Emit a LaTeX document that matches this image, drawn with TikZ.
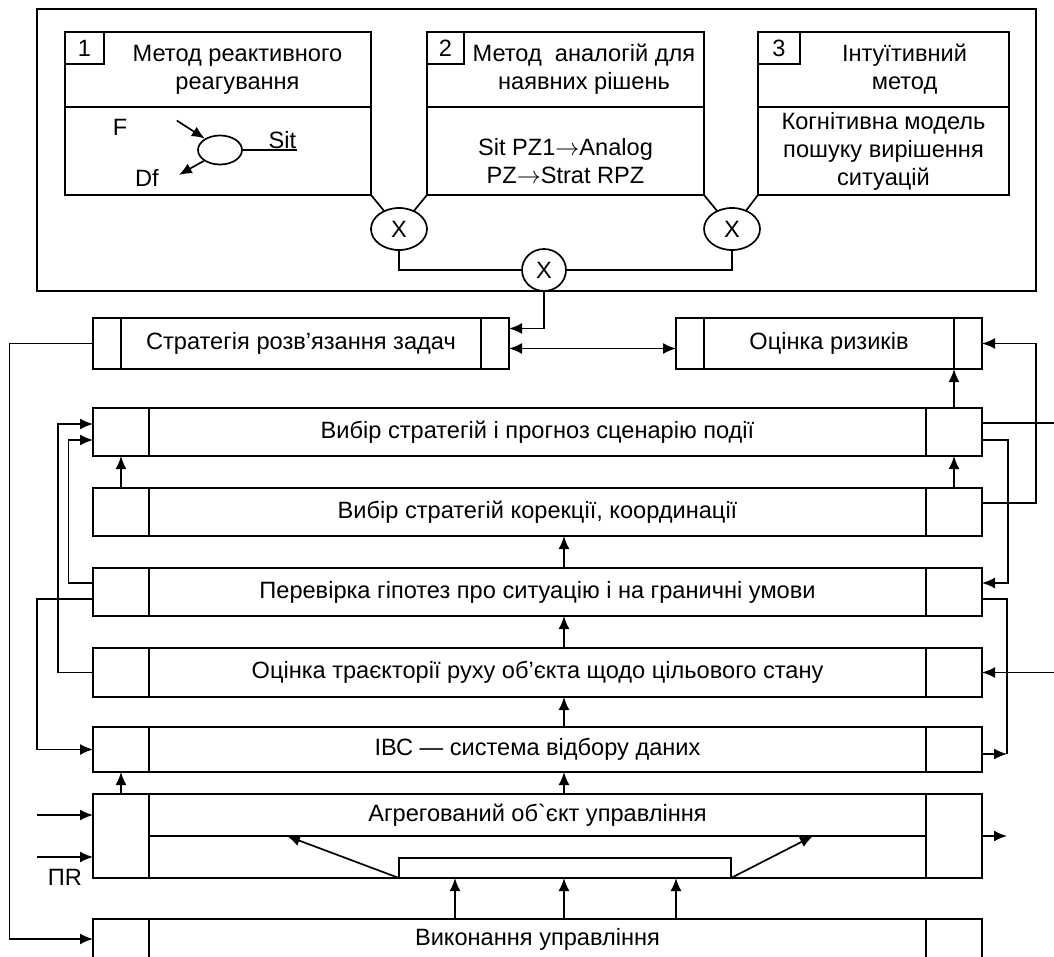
\documentclass[tikz,border=0pt]{standalone}
\usepackage{fontspec}
\setmainfont{Liberation Sans}[Ligatures=TeXOff]
\usetikzlibrary{arrows.meta,positioning,shapes.geometric,calc}

\tikzset{
    blk/.style={draw, rectangle, inner sep=0pt, outer sep=0pt, align=center},
    num/.style={blk, anchor=north west, minimum height=16pt},
    mult/.style={draw, ellipse, inner sep=0pt, outer sep=0pt, minimum height=21pt},
    row/.style={blk, minimum width=444.5pt, minimum height=24pt},
}

\begin{document}
\begin{tikzpicture}[x=0.5pt,y=-0.5pt,line width=0.85pt,>={Latex[length=6.5pt,width=5.5pt]},
    font=\fontsize{11.8}{14}\selectfont]
    \clip (0,0) rectangle (1054,957);
    \draw (37,9) rectangle (1036,291);

    % methods
    \node[blk, anchor=north west, minimum width=153pt, minimum height=37.5pt] (m1) at (65,32) {};
    \node[blk, below=0pt of m1, minimum width=153pt, minimum height=44pt] (m1body) {};
    \node[num, minimum width=19.5pt] (n1) at (65,32) {1};
    \node[align=center] (t1) at ($(n1.north east)!.5!(m1.south east)$) {Метод реактивного\\реагування};

    \node[blk, anchor=north west, minimum width=138.5pt, minimum height=37.5pt] (m2) at (427,32) {};
    \node[blk, below=0pt of m2, minimum width=138.5pt, minimum height=44pt] (m2body) {};
    \node[num, minimum width=18.5pt] (n2) at (427,32) {2};
    \node[align=center] (t2) at ($(n2.north east)!.5!(m2.south east)$) {Метод\ \ аналогій для\\наявних рішень};
    \node[align=center] (m2txt) at ($(m2body.center)+(0,10)$) {Sit PZ1$\rightarrow$Analog\\PZ$\rightarrow$Strat RPZ};

    \node[blk, anchor=north west, minimum width=125.5pt, minimum height=37.5pt] (m3) at (758,32) {};
    \node[blk, below=0pt of m3, minimum width=125.5pt, minimum height=44pt] (m3body) {Когнітивна модель\\пошуку вирішення\\ситуацій};
    \node[num, minimum width=21pt] (n3) at (758,32) {3};
    \node[align=center] (t3) at ($(n3.north east)!.5!(m3.south east)$) {Інтуїтивний\\метод};

    % reactive scheme
    \node[draw, ellipse, inner sep=0pt, minimum width=22pt, minimum height=14.5pt] (sit0) at (220,150) {};
    \node (flbl) at (120,127) {F};
    \node (dflbl) at (147,178) {Df};
    \node[inner sep=0pt, anchor=base east] (sitlbl) at (297,149) {Sit};
    \draw[->] ($(sit0.143)+(-28,-18)$) -- (sit0.143);
    \draw[->] (sit0.214) -- ++(-25,14);
    \draw (sit0.east) -- (sit0.east -| sitlbl.east);

    \node[mult, minimum width=28pt] (x1) at (399,229) {X};
    \node[mult, minimum width=22pt] (x2) at (544,270) {X};
    \node[mult, minimum width=28pt] (x3) at (732,229) {X};
    \draw (m1body.south east) -- (x1);
    \draw (m2body.south west) -- (x1);
    \draw (m2body.south east) -- (x3);
    \draw (m3body.south west) -- (x3);
    \draw (x1) |- (x2);
    \draw (x3) |- (x2);

    % strategy and risks
    \node[blk, anchor=north west, minimum width=208pt, minimum height=25.5pt] (strat) at (93,318) {Стратегія розв’язання задач};
    \node[blk, anchor=north west, minimum width=153pt, minimum height=25.5pt] (risk) at (676,318) {Оцінка ризиків};

    % levels
    \node[row, anchor=north west] (row1) at (93,408) {Вибір стратегій і прогноз сценарію події};
    \node[row, below=16pt of row1] (row2) {Вибір стратегій корекції, координації};
    \node[row, below=16pt of row2] (row3) {Перевірка гіпотез про ситуацію і на граничні умови};
    \node[row, below=16pt of row3, minimum height=24.5pt] (row4) {Оцінка траєкторії руху об’єкта щодо цільового стану};
    \node[row, below=15pt of row4, minimum height=22.5pt] (row5) {ІВС — система відбору даних};
    \node[row, below=11pt of row5, minimum height=42pt] (row6) {};
    \node[row, below=20.5pt of row6, minimum height=20pt] (row7) {Виконання управління};
    \node (row6lbl) at ($(row6.north)!.5!(row6.center)$) {Агрегований об`єкт управління};
    \node[blk, anchor=south west, minimum width=166pt, minimum height=10pt] (hub) at ($(row6.south west)+(306,0)$) {};

    \foreach \n/\w in {strat/28,risk/28,row1/56,row2/56,row3/56,row4/56,row5/56,row6/56,row7/56}
    {
        \draw ($(\n.north west)+(\w,0)$) -- ($(\n.south west)+(\w,0)$);
        \draw ($(\n.north east)+(-\w,0)$) -- ($(\n.south east)+(-\w,0)$);
    }
    \draw ($(row6.west)+(56,0)$) -- ($(row6.east)+(-56,0)$);
    \draw[->] (hub.south west) -- ++(-112,-42);
    \draw[->] (hub.south east) -- ++(82,-42);

    % vertical flow
    \draw[->] (x2) |- ($(strat.east)+(0,-15)$);
    \draw[<->] ($(strat.east)+(0,5)$) -- ($(risk.west)+(0,5)$);
    \draw[->] ($(row1.north east)+(-28,0)$) -- ($(risk.south east)+(-28,0)$);
    \draw[->] ($(row2.north east)+(-28,0)$) -- ($(row1.south east)+(-28,0)$);
    \draw[->] ($(row2.north west)+(28,0)$) -- ($(row1.south west)+(28,0)$);
    \draw[->] ($(row6.north west)+(28,0)$) -- ($(row5.south west)+(28,0)$);
    \foreach \a/\b in {row3/row2,row4/row3,row5/row4,row6/row5}
    {
        \draw[->] ($(\a.north)+(26.5,0)$) -- ($(\b.south)+(26.5,0)$);
    }
    \foreach \dx in {-82.5,26.5,138.5}
    {
        \draw[->] ($(row7.north)+(\dx,0)$) -- ($(row6.south)+(\dx,0)$);
    }

    % left loops
    \draw[->] (strat.west) -- ++(-83.5,0) |- (row7.west);
    \draw[->] ($(row3.west)+(0,-9)$) -- ++(-24.5,0) |- ($(row1.west)+(0,8)$);
    \draw[->] (row4.west) -- ++(-35,0) |- ($(row1.west)+(0,-8)$);
    \draw[->] ($(row3.west)+(0,7)$) -- ++(-56,0) |- (row5.west);
    \draw[<-] ($(row6.west)+(0,-21)$) -- ++(-56,0);
    \draw[<-] ($(row6.west)+(0,21)$) -- ++(-56,0);
    \node (pr) at (65,877) {ПR};

    % right loops
    \draw ($(row1.east)+(0,-9)$) -- ++(80,0);
    \draw[->] ($(row1.east)+(0,8)$) -- ++(26,0) |- ($(row3.east)+(0,-9)$);
    \draw[->] ($(row2.east)+(0,-9)$) -- ++(54,0) |- (risk.east);
    \draw[->] ($(row5.east)+(0,4.5)$) -- ++(25,0) coordinate (r5out);
    \draw ($(row3.east)+(0,7)$) -| (r5out);
    \draw[<-] (row4.east) -- ++(80,0);
    \draw[->] (row6.east) -- ++(25,0);
\end{tikzpicture}
\end{document}
